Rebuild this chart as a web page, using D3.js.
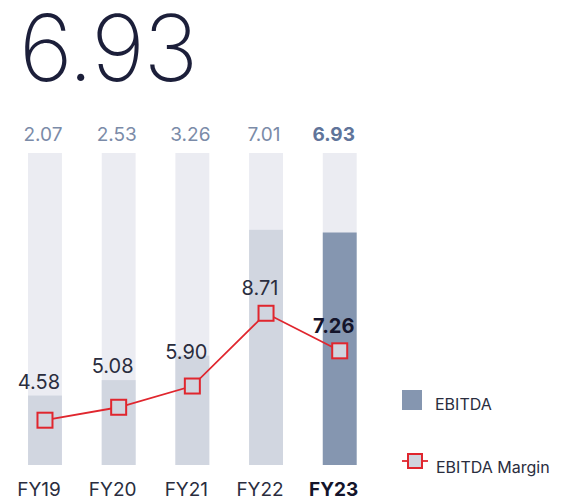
<!DOCTYPE html>
<html><head><meta charset="utf-8">
<script src="https://cdn.jsdelivr.net/npm/d3@7"></script>
<style>
html,body{margin:0;padding:0;background:#fff;}
svg{display:block;font-family:Inter, "Noto Sans", sans-serif;}
</style></head>
<body><svg id="c" width="563" height="502"></svg>
<script>
const categories = ["FY19","FY20","FY21","FY22","FY23"];
const ebitda = [2.07, 2.53, 3.26, 7.01, 6.93];
const margin = [4.58, 5.08, 5.90, 8.71, 7.26];
const headline = "6.93";
const legendLabels = ["EBITDA","EBITDA Margin"];

const svg = d3.select("#c");
const x = d3.scaleBand().domain(categories).range([13.3, 371.4]).paddingInner(0.54).paddingOuter(0.2);
const y = d3.scaleLinear().domain([0, 9.3]).range([465, 153]);
const yM = d3.scaleLinear().domain([2.85, 14.9]).range([465, 153]);
const last = categories[categories.length-1];
const cx = c => x(c) + x.bandwidth()/2;

// headline
svg.append("text").attr("x", 19).attr("y", 81)
  .attr("font-size", 92).attr("font-weight", 200).attr("fill", "#1c1f3a")
  .attr("letter-spacing", -1.5).text(headline);

// background bars
svg.append("g").selectAll("rect").data(categories).join("rect")
  .attr("x", d => x(d)).attr("width", x.bandwidth())
  .attr("y", y(9.3)).attr("height", y(0) - y(9.3)).attr("fill", "#ebecf2");

// value bars
svg.append("g").selectAll("rect").data(ebitda).join("rect")
  .attr("x", (d,i) => x(categories[i])).attr("width", x.bandwidth())
  .attr("y", d => y(d)).attr("height", d => y(0) - y(d))
  .attr("fill", (d,i) => categories[i] === last ? "#8596b0" : "#d1d6e0");

// top labels
svg.append("g").selectAll("text").data(ebitda).join("text")
  .attr("x", (d,i) => cx(categories[i]) - (categories[i]===last ? 6 : 2)).attr("y", 141)
  .attr("text-anchor", "middle").attr("font-size", 19)
  .attr("font-weight", (d,i) => categories[i] === last ? 700 : 400)
  .attr("fill", (d,i) => categories[i] === last ? "#60749a" : "#7b8ba8")
  .text(d => d.toFixed(2));

// margin line
const pts = margin.map((v,i) => [cx(categories[i]), yM(v)]);
svg.append("path").attr("d", d3.line()(pts)).attr("fill", "none")
  .attr("stroke", "#e0262e").attr("stroke-width", 1.8);
svg.append("g").selectAll("rect").data(pts).join("rect")
  .attr("x", d => d[0]-7.5).attr("y", d => d[1]-7.5).attr("width", 15).attr("height", 15)
  .attr("fill", "#d0d5df").attr("stroke", "#e0262e").attr("stroke-width", 2);

// margin labels
svg.append("g").selectAll("text").data(margin).join("text")
  .attr("x", (d,i) => cx(categories[i]) - 6)
  .attr("y", (d,i) => {
    let b = yM(d) - 18;
    const top = y(ebitda[i]);
    if (b > top && b - 14 < top) b = (b - top < 10) ? top - 7 : top + 3;
    return b;
  })
  .attr("text-anchor", "middle").attr("font-size", 20)
  .attr("font-weight", (d,i) => categories[i] === last ? 700 : 400)
  .attr("fill", (d,i) => categories[i] === last ? "#14142b" : "#2a2d3e")
  .text(d => d.toFixed(2));

// x axis
const ax = svg.append("g").attr("transform", "translate(-6,465)")
  .call(d3.axisBottom(x).tickSize(0).tickPadding(18));
ax.select(".domain").remove();
ax.selectAll("text").attr("font-size", 19).attr("font-family", "Inter, 'Noto Sans', sans-serif")
  .attr("font-weight", d => d === last ? 700 : 400)
  .attr("fill", d => d === last ? "#14142b" : "#2a2d3e");

// legend
const lg = svg.append("g");
lg.append("rect").attr("x", 402).attr("y", 390).attr("width", 20).attr("height", 20).attr("fill", "#8596b0");
lg.append("text").attr("x", 435).attr("y", 410).attr("font-size", 16).attr("fill", "#2a2d3e").text(legendLabels[0]);
lg.append("line").attr("x1", 402).attr("x2", 428).attr("y1", 461).attr("y2", 461)
  .attr("stroke", "#e0262e").attr("stroke-width", 1.8);
lg.append("rect").attr("x", 408).attr("y", 454).attr("width", 14).attr("height", 14)
  .attr("fill", "#d0d5df").attr("stroke", "#e0262e").attr("stroke-width", 2);
lg.append("text").attr("x", 436).attr("y", 473).attr("font-size", 16).attr("fill", "#2a2d3e").text(legendLabels[1]);
</script></body></html>
